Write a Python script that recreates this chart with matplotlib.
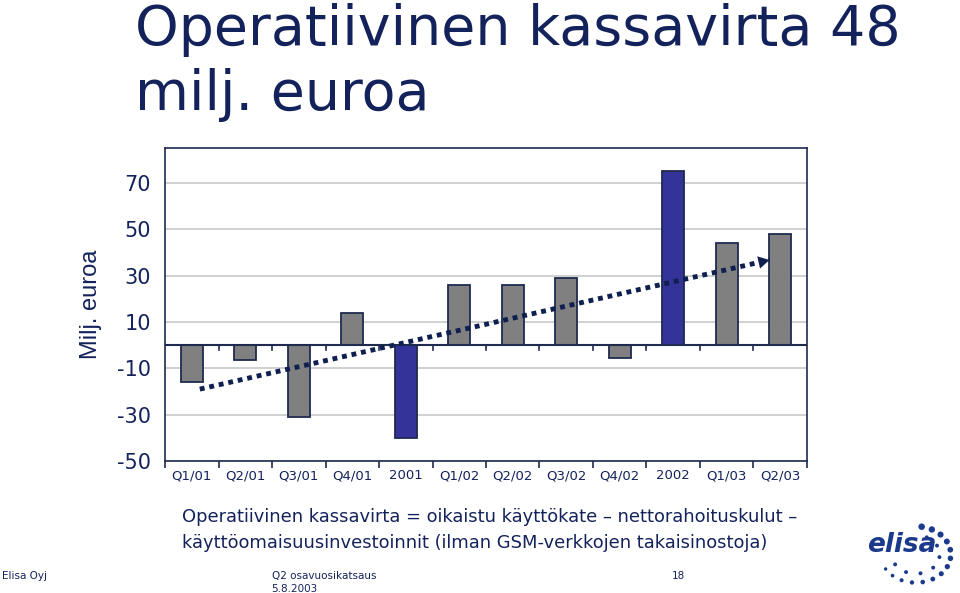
import matplotlib.pyplot as plt
import numpy as np

# data
quarters = ['Q1/01', 'Q2/01', 'Q3/01', 'Q4/01', '2001', 'Q1/02', 'Q2/02',
            'Q3/02', 'Q4/02', '2002', 'Q1/03', 'Q2/03']
cash_flow = [-16, -6.5, -31, 14, -40, 26, 26, 29, -5.5, 75, 44, 48]
is_year = [False, False, False, False, True, False, False, False, False, True, False, False]
trend_x = [0.15, 10.8]
trend_y = [-19, 36.7]
yticks = [70, 50, 30, 10, -10, -30, -50]

navy = '#14225c'
grey = '#808080'
blue = '#333399'
edge = '#1f2a4f'

fig = plt.figure(figsize=(9.6, 5.93), dpi=100)
ax = fig.add_axes([0.1719, 0.2226, 0.6687, 0.5278])

x = np.arange(len(quarters))
colors = [blue if y else grey for y in is_year]
ax.bar(x, cash_flow, width=0.41, color=colors, edgecolor=edge, linewidth=1.3, zorder=3)

ax.set_xlim(-0.5, 11.5)
ax.set_ylim(-50, 85)
ax.set_yticks(yticks)
ax.set_yticklabels([str(t) for t in yticks], fontsize=15, color=navy, family='DejaVu Sans')
ax.yaxis.grid(True, color='#c8c8c8', linewidth=1.2, zorder=0)
ax.tick_params(axis='y', length=0, pad=10)

# category ticks at boundaries, labels centred
ax.set_xticks(np.arange(-0.5, 12, 1))
ax.set_xticklabels([])
ax.set_xticks(x, minor=True)
ax.set_xticklabels(quarters, minor=True, fontsize=9.5, color=navy)
ax.tick_params(axis='x', which='major', length=5, color=edge, width=1.2)
ax.tick_params(axis='x', which='minor', length=0, pad=6)

# zero line with boundary ticks
ax.axhline(0, color=edge, linewidth=1.5, zorder=4)
for b in np.arange(0.5, 11.5, 1):
    ax.plot([b, b], [0, -2.3], color=edge, linewidth=1.2, zorder=4)

for s in ax.spines.values():
    s.set_color(edge)
    s.set_linewidth(1.2)

# trend arrow
ax.plot(trend_x, trend_y, color='#0f1f4f', linewidth=3.5, linestyle=(0, (1, 1)), zorder=5)
slope = (trend_y[1] - trend_y[0]) / (trend_x[1] - trend_x[0])
ax.annotate('', xy=(trend_x[1] + 0.05, trend_y[1] + 0.05 * slope),
            xytext=(trend_x[1] - 0.3, trend_y[1] - 0.3 * slope),
            arrowprops=dict(arrowstyle='-|>,head_length=0.8,head_width=0.45',
                            color='#0f1f4f', lw=0), zorder=6)

ax.set_ylabel('Milj. euroa', fontsize=17, color=navy, family='Liberation Sans')
ax.yaxis.set_label_coords(-0.098, 0.5)

fig.text(0.1406, 0.924, 'Operatiivinen kassavirta 48', fontsize=40, color=navy,
         family='DejaVu Sans', va='baseline')
fig.text(0.1406, 0.814, 'milj. euroa', fontsize=40, color=navy,
         family='DejaVu Sans', va='baseline')

fig.text(0.19, 0.128, 'Operatiivinen kassavirta = oikaistu käyttökate – nettorahoituskulut –',
         fontsize=12.9, color=navy, va='center')
fig.text(0.19, 0.084, 'käyttöomaisuusinvestoinnit (ilman GSM-verkkojen takaisinostoja)',
         fontsize=12.9, color=navy, va='center')

fig.text(0.002, 0.028, 'Elisa Oyj', fontsize=7.5, color=navy, va='center')
fig.text(0.283, 0.028, 'Q2 osavuosikatsaus', fontsize=7.5, color=navy, va='center')
fig.text(0.283, 0.006, '5.8.2003', fontsize=7.5, color=navy, va='center')
fig.text(0.70, 0.028, '18', fontsize=7.5, color=navy, va='center')

# logo
logo_blue = '#1b3a8c'
fig.text(0.975, 0.081, 'elisa', fontsize=19, color=logo_blue, weight='bold',
         style='italic', ha='right', va='center')
lax = fig.add_axes([0.90, 0.0, 0.1, 0.13])
lax.set_xlim(-1.3, 1.3)
lax.set_ylim(-1.3, 1.3)
lax.axis('off')
ang = np.linspace(-2.6, 1.4, 14)
lax.scatter(0.95 * np.cos(ang) + 0.1, 0.95 * np.sin(ang), s=np.linspace(6, 22, 14),
            color=logo_blue, edgecolors='none')
lax.scatter(0.65 * np.cos(ang[::2]) + 0.1, 0.65 * np.sin(ang[::2]), s=8,
            color=logo_blue, edgecolors='none')

fig.savefig('out.png', dpi=100)
